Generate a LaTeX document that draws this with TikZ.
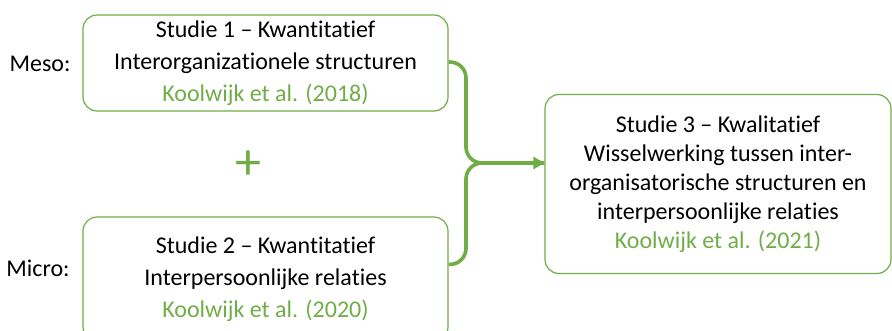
\documentclass[tikz,border=0pt]{standalone}
\usepackage{fontspec}
\setmainfont{Carlito}[Ligatures={NoCommon}]
\usetikzlibrary{arrows.meta,calc}
\definecolor{leaf}{HTML}{70AD47}
\begin{document}
\begin{tikzpicture}[x=1bp,y=-1bp,
  study/.style={draw=leaf, line width=1.2bp, rounded corners=14bp, align=center,
    font=\fontsize{24bp}{32bp}\selectfont, inner sep=0pt},
  level/.style={font=\fontsize{24bp}{32bp}\selectfont, inner sep=0pt},
  conn/.style={draw=leaf, line width=3.6bp, rounded corners=16bp}]
\useasboundingbox (0,0) rectangle (892,330);
% the two quantitative studies
\node[study, minimum width=365bp, minimum height=96bp] (s1) at (265.5,63)
  {Studie 1 -- Kwantitatief\\Interorganizationele structuren\\\textcolor{leaf}{Koolwijk et al. (2018)}};
\node[study, minimum width=365bp, minimum height=124bp] (s2) at (265.5,279)
  {Studie 2 -- Kwantitatief\\Interpersoonlijke relaties\\\textcolor{leaf}{Koolwijk et al. (2020)}};
% the qualitative study
\node[study, minimum width=346bp, minimum height=179bp,
  font=\fontsize{24bp}{29bp}\selectfont] (s3) at (718,184)
  {Studie 3 -- Kwalitatief\\Wisselwerking tussen inter-\\organisatorische structuren en\\interpersoonlijke relaties\\\textcolor{leaf}{Koolwijk et al. (2021)}};
% level labels
\node[level] (meso) at (40,64) {Meso:};
\node[level] (micro) at (38,268) {Micro:};
\node[text=leaf, font=\fontsize{52bp}{52bp}\selectfont, inner sep=0pt] (plus) at (248,165) {+};
% joining connector
\coordinate (j) at (466,163);
\coordinate (b) at ($(s2.north east)+(0,48)$);
\draw[conn] (s1.east |- 0,62) -| (j) -- (j -| s3.west);
\draw[conn, -{Triangle[length=11bp,width=12bp]}] (b) -| (j) -- (j -| s3.west);
\end{tikzpicture}
\end{document}
